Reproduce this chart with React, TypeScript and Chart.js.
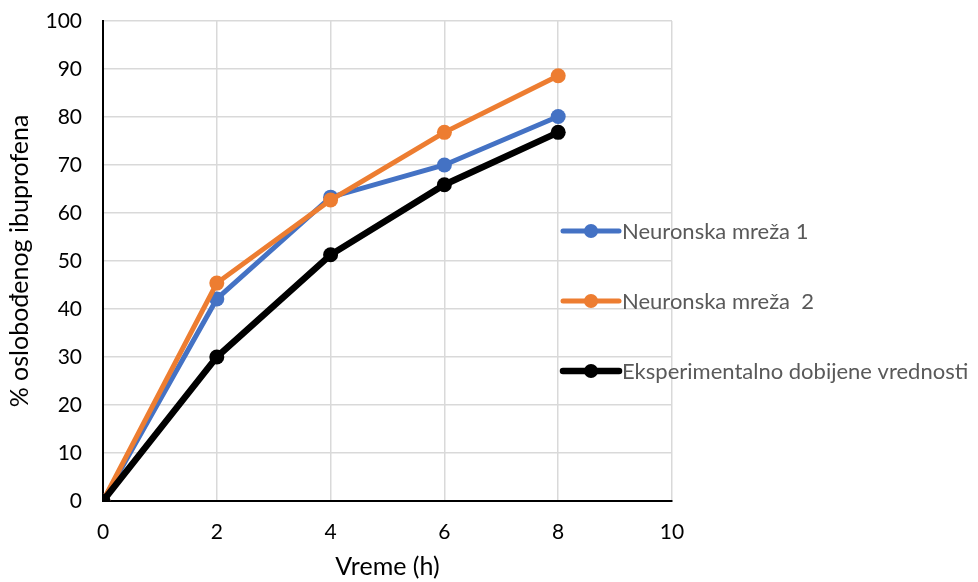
import React, { useEffect, useRef } from "react";
import { Chart, registerables } from "chart.js";

Chart.register(...registerables);

const xValues = [0, 2, 4, 6, 8];
const seriesNames = ["Neuronska mreža 1", "Neuronska mreža  2", "Eksperimentalno dobijene vrednosti"];
const net1 = [0, 42.1, 63.3, 70.0, 80.1];
const net2 = [0, 45.4, 62.7, 76.8, 88.6];
const experimental = [0, 30.0, 51.3, 65.9, 76.8];
const seriesColors = ["#4472C4", "#ED7D31", "#000000"];
const seriesWidths = [5, 5, 6.5];
const xTitle = "Vreme (h)";
const yTitle = "% oslobođenog ibuprofena";

const FONT = "Lato, 'Open Sans', sans-serif";

const legendPlugin = {
  id: "customLegend",
  afterDraw(chart: any) {
    const ctx = chart.ctx;
    const items = chart.data.datasets;
    const x0 = 563;
    const x1 = 619;
    const ys = [231, 301, 371];
    ctx.save();
    items.forEach((ds: any, i: number) => {
      const y = ys[i];
      ctx.strokeStyle = ds.borderColor;
      ctx.lineWidth = ds.borderWidth;
      ctx.lineCap = "round";
      ctx.beginPath();
      ctx.moveTo(x0, y);
      ctx.lineTo(x1, y);
      ctx.stroke();
      ctx.fillStyle = ds.borderColor;
      ctx.beginPath();
      ctx.arc((x0 + x1) / 2, y, 7, 0, Math.PI * 2);
      ctx.fill();
      ctx.fillStyle = "#595959";
      ctx.font = `22px ${FONT}`;
      ctx.textBaseline = "middle";
      ctx.textAlign = "left";
      ctx.fillText(ds.label, x1 + 3, y + 1);
    });
    ctx.restore();
  },
};

export default function App() {
  const ref = useRef<HTMLCanvasElement | null>(null);
  useEffect(() => {
    document.body.style.margin = "0";
    const values = [net1, net2, experimental];
    const chart = new Chart(ref.current!, {
      type: "line",
      data: {
        datasets: values.map((v, i) => ({
          label: seriesNames[i],
          data: xValues.map((x, j) => ({ x, y: v[j] })),
          borderColor: seriesColors[i],
          backgroundColor: seriesColors[i],
          borderWidth: seriesWidths[i],
          pointRadius: 7.5,
          pointHoverRadius: 7.5,
          pointBorderWidth: 0,
          order: 3 - i,
          tension: 0,
        })),
      },
      options: {
        animation: false,
        responsive: false,
        layout: { padding: { top: 21, right: 306, left: 0, bottom: 0 } },
        plugins: { legend: { display: false }, tooltip: { enabled: false } },
        scales: {
          x: {
            type: "linear",
            min: 0,
            max: 10,
            ticks: { stepSize: 2, color: "#000", font: { size: 21, family: FONT }, padding: 19 },
            grid: { color: "#d9d9d9", lineWidth: 1.5, drawTicks: false },
            border: { color: "#000", width: 2 },
            title: { display: true, text: xTitle, color: "#000", font: { size: 25, family: FONT }, padding: { top: 0, bottom: 0 } },
            afterFit(scale: any) {
              scale.height = 81;
              scale.paddingLeft = 0;
              scale.paddingRight = 0;
            },
          },
          y: {
            min: 0,
            max: 100,
            ticks: { stepSize: 10, color: "#000", font: { size: 21, family: FONT }, padding: 21 },
            grid: { color: "#d9d9d9", lineWidth: 1.5, drawTicks: false },
            border: { color: "#000", width: 2 },
            title: { display: true, text: yTitle, color: "#000", font: { size: 25, family: FONT }, padding: { top: 5, bottom: 0 } },
            afterFit(scale: any) {
              scale.width = 103;
              scale.paddingTop = 0;
              scale.paddingBottom = 0;
            },
          },
        },
      },
      plugins: [legendPlugin],
    });
    return () => chart.destroy();
  }, []);
  return (
    <div style={{ position: "absolute", left: 0, top: 0, width: 978, height: 582, background: "#fff" }}>
      <canvas ref={ref} width={978} height={582} />
    </div>
  );
}
